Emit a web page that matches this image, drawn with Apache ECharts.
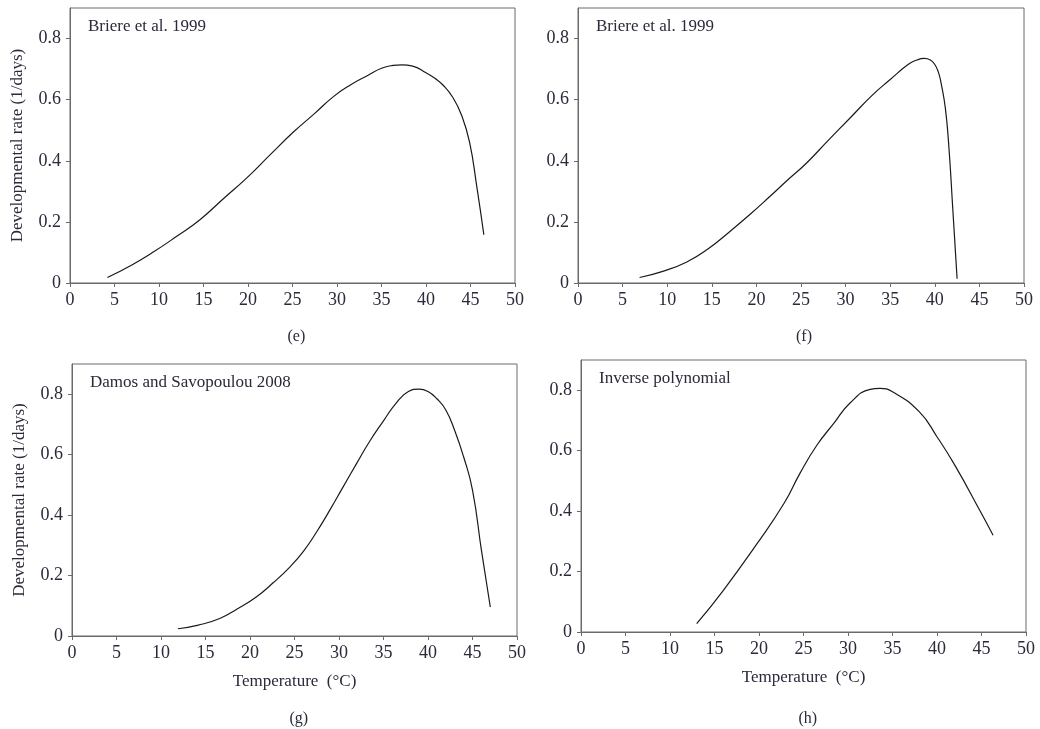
<!DOCTYPE html>
<html>
<head>
<meta charset="utf-8">
<script src="https://cdn.jsdelivr.net/npm/echarts@6/dist/echarts.min.js"></script>
<style>
  html, body { margin: 0; padding: 0; background: #fff; }
  #chart { width: 1040px; height: 729px; }
</style>
</head>
<body>
<div id="chart"></div>
<script>
// (e) Briere et al. 1999
var tempE = [4.2, 7, 9.4, 12, 14.6, 17.2, 19.9, 22.5, 25.1, 27.5, 29.6, 31.5, 33.5, 35, 36.3, 37.3, 38.5, 40, 41, 41.9, 43, 44, 44.9, 45.7, 46.5];
var rateE = [0.018, 0.06, 0.102, 0.153, 0.207, 0.275, 0.345, 0.42, 0.494, 0.555, 0.61, 0.648, 0.68, 0.703, 0.712, 0.714, 0.71, 0.688, 0.67, 0.648, 0.608, 0.549, 0.46, 0.317, 0.158];
// (f) Briere et al. 1999
var tempF = [6.9, 9.5, 12.2, 14.6, 17, 19.3, 21.5, 23.5, 25.6, 28, 30.5, 33, 35, 37, 38, 38.8, 39.5, 40, 40.4, 40.7, 41.2, 41.6, 42, 42.5];
var rateF = [0.018, 0.038, 0.069, 0.112, 0.168, 0.225, 0.283, 0.337, 0.392, 0.465, 0.54, 0.615, 0.666, 0.715, 0.73, 0.735, 0.73, 0.715, 0.69, 0.655, 0.568, 0.436, 0.25, 0.014];
// (g) Damos and Savopoulou 2008
var tempG = [11.9, 14.2, 16.6, 18.6, 20.7, 22.6, 24.5, 26, 27.5, 29, 30.4, 32, 33.4, 35, 36.4, 37.8, 39, 40, 41, 42, 43, 44, 45, 46, 47];
var rateG = [0.024, 0.036, 0.058, 0.09, 0.129, 0.176, 0.229, 0.28, 0.345, 0.418, 0.49, 0.572, 0.642, 0.712, 0.77, 0.809, 0.817, 0.809, 0.785, 0.748, 0.68, 0.593, 0.483, 0.284, 0.096];
// (h) Inverse polynomial
var tempH = [13, 16, 19.8, 22.8, 24.6, 26.5, 28.4, 30.2, 32.5, 33.6, 35, 38, 40, 42, 45, 46.3];
var rateH = [0.028, 0.138, 0.293, 0.425, 0.525, 0.618, 0.69, 0.757, 0.803, 0.806, 0.795, 0.729, 0.646, 0.552, 0.392, 0.32];

var yTicks = [0, 0.2, 0.4, 0.6, 0.8];

var panelTitles = ['Briere et al. 1999', 'Briere et al. 1999', 'Damos and Savopoulou 2008', 'Inverse polynomial'];
var captions = ['(e)', '(f)', '(g)', '(h)'];

var serif = '"Liberation Serif", "DejaVu Serif", serif';
var textColor = '#2a2a3a';

var grids = [
  { left: 70, top: 8, width: 445, height: 275 },
  { left: 578, top: 8, width: 446, height: 275 },
  { left: 72, top: 364, width: 445, height: 272 },
  { left: 581, top: 360, width: 445, height: 272 }
];

function pairs(xs, ys) {
  return xs.map(function (x, i) { return [x, ys[i]]; });
}

var series = [pairs(tempE, rateE), pairs(tempF, rateF), pairs(tempG, rateG), pairs(tempH, rateH)];
var hasYName = [true, false, true, false];
var hasXName = [false, false, true, true];

var option = {
  backgroundColor: '#fff',
  animation: false,
  grid: grids.map(function (g) {
    return Object.assign({ show: true, borderColor: '#6a6a6a', borderWidth: 1, backgroundColor: 'transparent' }, g);
  }),
  xAxis: grids.map(function (g, i) {
    return {
      type: 'value', gridIndex: i, min: 0, max: 50, interval: 5,
      name: hasXName[i] ? 'Temperature  (°C)' : '',
      nameLocation: 'middle', nameGap: 37,
      nameTextStyle: { fontFamily: serif, fontSize: 17, color: textColor },
      axisLine: { lineStyle: { color: '#6a6a6a' } },
      axisTick: { show: true, inside: false, length: 4, lineStyle: { color: '#6a6a6a' } },
      axisLabel: { margin: 8, fontFamily: serif, fontSize: 18, color: textColor },
      splitLine: { show: false }
    };
  }),
  yAxis: grids.map(function (g, i) {
    return {
      type: 'value', gridIndex: i, min: 0, max: 0.9, interval: 0.2,
      name: hasYName[i] ? 'Developmental rate (1/days)' : '',
      nameLocation: 'middle', nameGap: 44, nameRotate: 90,
      nameTextStyle: { fontFamily: serif, fontSize: 17, color: textColor },
      axisLine: { lineStyle: { color: '#6a6a6a' } },
      axisTick: { show: true, length: 4, customValues: yTicks, lineStyle: { color: '#6a6a6a' } },
      axisLabel: { margin: 9, fontFamily: serif, fontSize: 18, color: textColor, customValues: yTicks },
      splitLine: { show: false }
    };
  }),
  title: grids.map(function (g, i) {
    return {
      text: panelTitles[i],
      left: g.left + 13, top: g.top + 5,
      textStyle: { fontFamily: serif, fontSize: 17, fontWeight: 'normal', color: textColor }
    };
  }).concat(grids.map(function (g, i) {
    return {
      text: captions[i],
      left: g.left + g.width / 2 - 10, top: i < 2 ? 324 : 706,
      textStyle: { fontFamily: serif, fontSize: 16, fontWeight: 'normal', color: textColor }
    };
  })),
  series: series.map(function (d, i) {
    return {
      type: 'line', xAxisIndex: i, yAxisIndex: i, data: d,
      smooth: 0.5, showSymbol: false, symbol: 'none',
      lineStyle: { color: '#1a1a1a', width: 1.2 }
    };
  })
};

var chart = echarts.init(document.getElementById('chart'));
chart.setOption(option);
</script>
</body>
</html>
